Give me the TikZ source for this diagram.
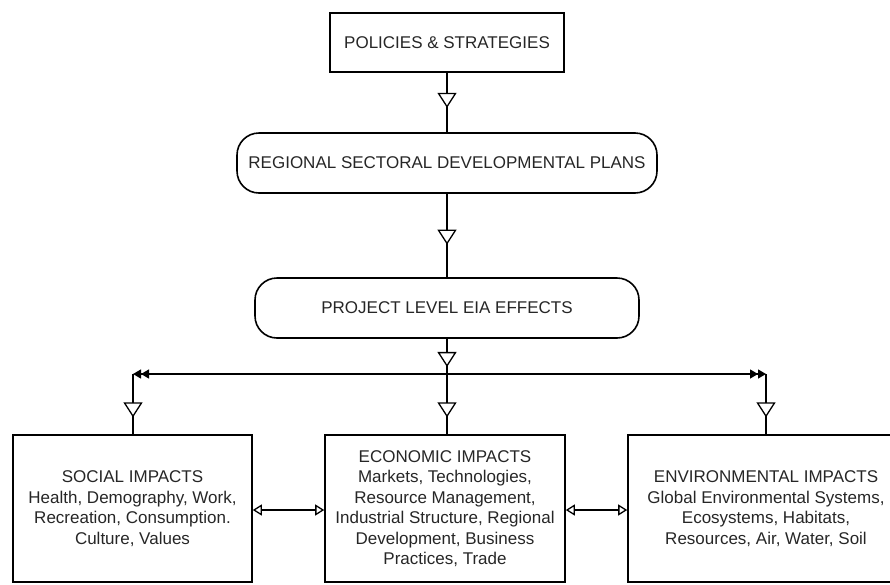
\documentclass[tikz,border=0pt]{standalone}
\usepackage{fontspec}
\setmainfont{Liberation Sans}
\usetikzlibrary{positioning}
\usetikzlibrary{arrows.meta}
\usetikzlibrary{decorations.markings}

\begin{document}
\begin{tikzpicture}[x=1pt,y=-1pt,
		font=\fontsize{17}{20.5}\selectfont,
		box/.style={draw,line width=1.6pt,rectangle,align=center,text=black!85,inner sep=2pt},
		roundbox/.style={box,rounded corners=22pt},
		midtri/.style={line width=1.3pt,postaction={decorate},decoration={markings,mark=at position #1 with {\arrow{Triangle[length=15pt,width=19pt,fill=white]}}}},
		midtri/.default=0.6,
		bus/.style={line width=1.3pt,arrows={Triangle[length=8pt,width=9pt]Triangle[length=8pt,width=9pt]-Triangle[length=8pt,width=9pt]Triangle[length=8pt,width=9pt]}},
		link/.style={line width=1.3pt,arrows={Triangle[length=9pt,width=11pt,fill=white]-Triangle[length=9pt,width=11pt,fill=white]}}]
		\useasboundingbox (0,0) rectangle (890,584);
		\node[box,minimum width=234pt,minimum height=59pt] at (447,42.5) (policies) {POLICIES \& STRATEGIES};
		\node[roundbox,minimum width=420pt,minimum height=60pt] at (447,163) (plans) {REGIONAL SECTORAL DEVELOPMENTAL PLANS};
		\node[roundbox,minimum width=384pt,minimum height=60pt] at (447,308) (effects) {PROJECT LEVEL EIA EFFECTS};
		\node[box,minimum width=239pt,minimum height=147pt] at (132.5,508.5) (social) {SOCIAL IMPACTS\\Health, Demography, Work,\\Recreation, Consumption.\\Culture, Values};
		\node[box,minimum width=240pt,minimum height=147pt] at (445,508.5) (economic) {ECONOMIC IMPACTS\\Markets, Technologies,\\Resource Management,\\Industrial Structure, Regional\\Development, Business\\Practices, Trade};
		\node[box,minimum width=276pt,minimum height=147pt] at (766,508.5) (environ) {ENVIRONMENTAL IMPACTS\\Global Environmental Systems,\\Ecosystems, Habitats,\\Resources, Air, Water, Soil};
		\coordinate (busL) at (133,374);
		\coordinate (busM) at (447,374);
		\coordinate (busR) at (766,374);
		\draw[midtri=0.59] (policies) -- (plans);
		\draw[midtri=0.61] (plans) -- (effects);
		\draw[midtri=0.8] (effects) -- (busM);
		\draw[bus] (busL) -- (busR);
		\draw[midtri=0.72] (busL) -- (busL |- social.north);
		\draw[midtri=0.72] (busM) -- (busM |- economic.north);
		\draw[midtri=0.72] (busR) -- (busR |- environ.north);
		\draw[link] (social.east |- 0,510) -- (economic.west |- 0,510);
		\draw[link] (economic.east |- 0,510) -- (environ.west |- 0,510);
	\end{tikzpicture}
\end{document}
